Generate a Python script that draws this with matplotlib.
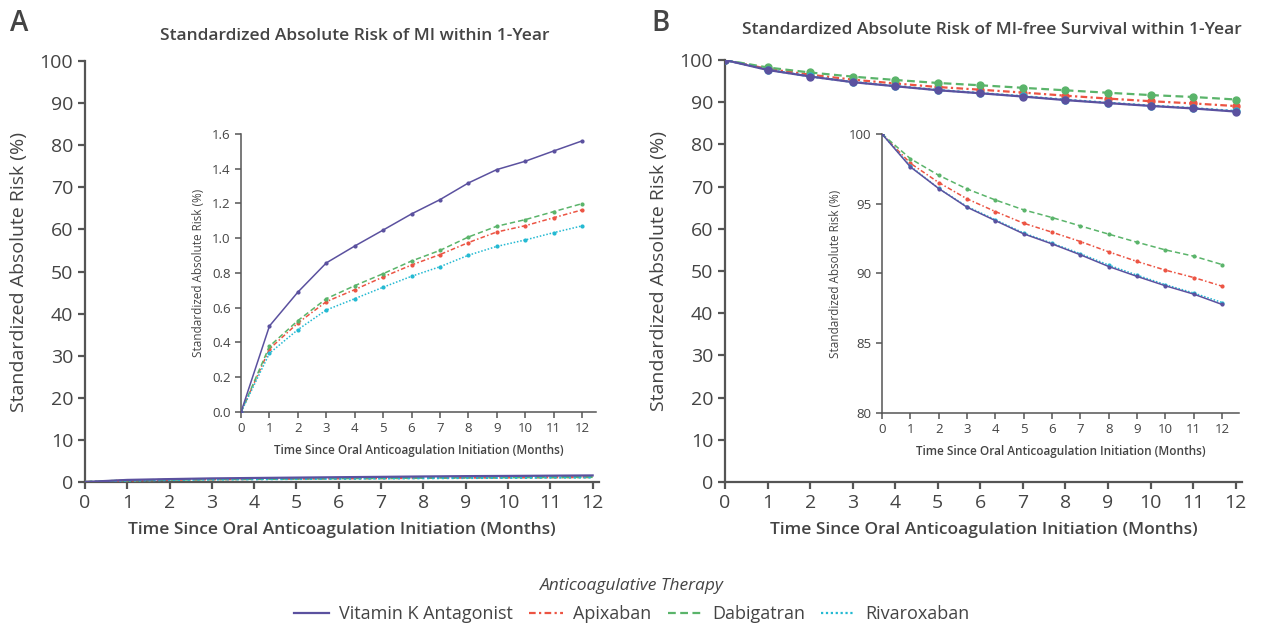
import matplotlib
matplotlib.use("Agg")
import matplotlib.pyplot as plt

plt.rcParams['font.family'] = ['Open Sans', 'DejaVu Sans']

months = list(range(13))
therapies = ['Vitamin K Antagonist', 'Apixaban', 'Dabigatran', 'Rivaroxaban']

# cumulative risk of MI (%)
mi_vka = [0, 0.495, 0.69, 0.858, 0.955, 1.047, 1.14, 1.222, 1.318, 1.395, 1.443, 1.502, 1.56]
mi_apix = [0, 0.363, 0.512, 0.635, 0.704, 0.777, 0.846, 0.906, 0.975, 1.036, 1.072, 1.118, 1.163]
mi_dabi = [0, 0.378, 0.526, 0.652, 0.727, 0.796, 0.869, 0.93, 1.007, 1.069, 1.107, 1.153, 1.199]
mi_riva = [0, 0.338, 0.474, 0.587, 0.652, 0.718, 0.781, 0.836, 0.902, 0.953, 0.99, 1.032, 1.071]

# MI-free survival (%)
surv_vka = [100, 97.64, 96.09, 94.75, 93.79, 92.84, 92.12, 91.34, 90.50, 89.79, 89.12, 88.52, 87.78]
surv_apix = [100, 97.90, 96.52, 95.35, 94.44, 93.60, 92.96, 92.29, 91.55, 90.86, 90.24, 89.71, 89.09]
surv_dabi = [100, 98.23, 97.04, 96.06, 95.27, 94.56, 94.01, 93.41, 92.82, 92.24, 91.69, 91.24, 90.64]
surv_riva = [100, 97.70, 96.10, 94.80, 93.85, 92.90, 92.17, 91.42, 90.60, 89.88, 89.20, 88.60, 87.92]

colors = ['#5b519f', '#ec5443', '#5ab46a', '#23b9d2']
styles = ['-', (0, (3, 1.5, 1, 1.5)), (0, (3.5, 2)), (0, (1, 1.2))]
zorders = [5, 3, 3, 4]

txt = '#444444'
spine = '#555555'


def style_axes(ax, fs, lw):
    for s in ['top', 'right']:
        ax.spines[s].set_visible(False)
    for s in ['left', 'bottom']:
        ax.spines[s].set_color(spine)
        ax.spines[s].set_linewidth(lw)
    ax.tick_params(colors=spine, labelcolor=txt, labelsize=fs, width=lw, length=5)


def draw(ax, series, lw, ms):
    for vals, c, ls, z, name in zip(series, colors, styles, zorders, therapies):
        ax.plot(months, vals, color=c, linestyle=ls, linewidth=lw, zorder=z,
                marker='o', markersize=ms, label=name)


fig = plt.figure(figsize=(12.64, 6.29), dpi=100)

# Panel A
axA = fig.add_axes([0.0672, 0.2337, 0.4067, 0.6693])
draw(axA, [mi_vka, mi_apix, mi_dabi, mi_riva], 1.6, 4)
axA.set_xlim(0, 12.15)
axA.set_ylim(0, 100)
axA.set_xticks(months)
axA.set_yticks(range(0, 101, 10))
style_axes(axA, 14, 1.6)
axA.set_xlabel('Time Since Oral Anticoagulation Initiation (Months)', fontsize=12.5,
               color=txt, fontweight='semibold', labelpad=7)
axA.set_ylabel('Standardized Absolute Risk (%)', fontsize=14, color=txt, labelpad=8)
fig.text(0.281, 0.942, 'Standardized Absolute Risk of MI within 1-Year', ha='center',
         va='center', fontsize=12.5, color=txt, fontweight='semibold')
fig.text(0.008, 0.962, 'A', fontsize=20, color=txt, va='center', fontweight='semibold')

insA = fig.add_axes([0.1907, 0.345, 0.281, 0.442])
draw(insA, [mi_vka, mi_apix, mi_dabi, mi_riva], 1.1, 2)
insA.set_xlim(0, 12.5)
insA.set_ylim(0, 1.6)
insA.set_xticks(months)
insA.set_yticks([0, 0.2, 0.4, 0.6, 0.8, 1.0, 1.2, 1.4, 1.6])
insA.set_yticklabels(['0.0', '0.2', '0.4', '0.6', '0.8', '1.0', '1.2', '1.4', '1.6'])
style_axes(insA, 9.5, 1.1)
insA.tick_params(length=4)
insA.set_xlabel('Time Since Oral Anticoagulation Initiation (Months)', fontsize=8.5,
                color=txt, fontweight='semibold', labelpad=6)
insA.set_ylabel('Standardized Absolute Risk (%)', fontsize=8.5, color=txt, labelpad=5)

# Panel B
axB = fig.add_axes([0.5736, 0.2337, 0.409, 0.6709])
draw(axB, [surv_vka, surv_apix, surv_dabi, surv_riva], 1.6, 5)
axB.set_xlim(0, 12.15)
axB.set_ylim(0, 100)
axB.set_xticks(months)
axB.set_yticks(range(0, 101, 10))
style_axes(axB, 14, 1.6)
axB.set_xlabel('Time Since Oral Anticoagulation Initiation (Months)', fontsize=12.5,
               color=txt, fontweight='semibold', labelpad=7)
axB.set_ylabel('Standardized Absolute Risk (%)', fontsize=14, color=txt, labelpad=8)
fig.text(0.785, 0.952, 'Standardized Absolute Risk of MI-free Survival within 1-Year',
         ha='center', va='center', fontsize=12.5, color=txt, fontweight='semibold')
fig.text(0.515, 0.962, 'B', fontsize=20, color=txt, va='center', fontweight='semibold')

insB = fig.add_axes([0.6978, 0.3434, 0.2825, 0.4436])
draw(insB, [surv_vka, surv_apix, surv_dabi, surv_riva], 1.1, 2)
insB.set_xlim(0, 12.6)
insB.set_ylim(80, 100)
insB.set_xticks(months)
insB.set_yticks(range(80, 101, 5))
style_axes(insB, 9.5, 1.1)
insB.tick_params(length=4)
insB.set_xlabel('Time Since Oral Anticoagulation Initiation (Months)', fontsize=8.5,
                color=txt, fontweight='semibold', labelpad=6)
insB.set_ylabel('Standardized Absolute Risk (%)', fontsize=8.5, color=txt, labelpad=5)

handles, labels = axA.get_legend_handles_labels()
for h in handles:
    h.set_marker('')
leg = fig.legend(handles, labels, loc='center', bbox_to_anchor=(0.5, 0.024), ncol=4,
                 frameon=False, fontsize=13, handlelength=1.9, columnspacing=0.9,
                 handletextpad=0.55)
for t in leg.get_texts():
    t.set_color(txt)
fig.text(0.5, 0.068, 'Anticoagulative Therapy', ha='center', va='center',
         fontsize=12.5, color=txt, style='italic')

fig.savefig('out.png', dpi=100)
